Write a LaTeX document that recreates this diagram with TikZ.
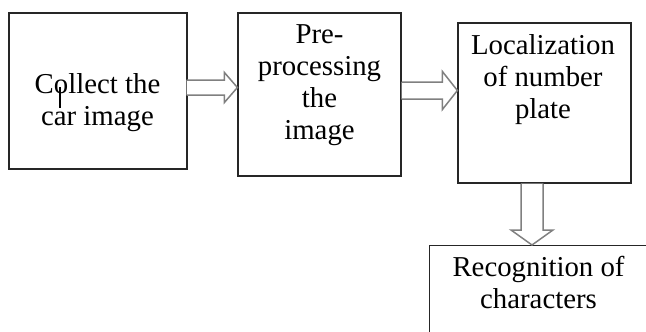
\documentclass[tikz,border=0pt]{standalone}
\usepackage{fontspec}
\setmainfont{Liberation Serif}
\usetikzlibrary{calc}
\tikzset{
  box/.style={draw=black!85, line width=1.2pt, fill=none, rectangle, inner sep=0pt},
  lbl/.style={align=center, inner sep=0pt, anchor=north, font=\fontsize{28.8}{32}\selectfont, text=black},
  blockarrow/.style={draw=black!50, line width=1.5pt, fill=white, line join=miter}
}
\begin{document}
\begin{tikzpicture}[x=1pt,y=-1pt]
\useasboundingbox (0,0) rectangle (646,332);
\clip (0,0) rectangle (646,332);
% boxes
\node[box, minimum width=178pt, minimum height=156pt] (b1) at (98,91) {};
\node[box, minimum width=163pt, minimum height=163pt] (b2) at (319.5,94.5) {};
\node[box, minimum width=173pt, minimum height=160pt] (b3) at (544.5,103) {};
\node[box, minimum width=230pt, minimum height=110pt, anchor=north west] (b4) at (429,245) {};
% labels
\node[lbl] (t1) at (97.5,73) {Collect the\\car image};
\node[lbl] (t2) at (319.5,24) {Pre-\\processing\\the\\image};
\node[lbl] (t3) at (543,34) {Localization\\of number\\plate};
\node[lbl] (t4) at (538.5,256) {Recognition of\\characters};
% cursor mark
\draw[line width=2pt, black] (60,87) -- (60,108);
% arrow coordinates
\coordinate (y1) at (0,87.5);
\coordinate (y2) at (0,90.5);
\coordinate (x3) at (532,0);
\coordinate (a1s) at (b1.east |- y1);
\coordinate (a1e) at (b2.west |- y1);
\coordinate (a2s) at (b2.east |- y2);
\coordinate (a2e) at (b3.west |- y2);
\coordinate (a3s) at (b3.south -| x3);
\coordinate (a3e) at (b4.north -| x3);
% arrow 1
\draw[blockarrow] ($(a1s)+(-1,-7.5)$) -- ($(a1e)+(-13,-7.5)$) -- ($(a1e)+(-13,-15)$) -- (a1e)
  -- ($(a1e)+(-13,15)$) -- ($(a1e)+(-13,7.5)$) -- ($(a1s)+(-1,7.5)$);
% arrow 2
\draw[blockarrow] ($(a2s)+(0,-8.5)$) -- ($(a2e)+(-15,-8.5)$) -- ($(a2e)+(-15,-19)$) -- (a2e)
  -- ($(a2e)+(-15,19)$) -- ($(a2e)+(-15,8.5)$) -- ($(a2s)+(0,8.5)$);
% arrow 3
\draw[blockarrow] ($(a3s)+(-11,0)$) -- ($(a3e)+(-11,-15)$) -- ($(a3e)+(-21,-15)$) -- (a3e)
  -- ($(a3e)+(21,-15)$) -- ($(a3e)+(11,-15)$) -- ($(a3s)+(11,0)$);
\end{tikzpicture}
\end{document}
